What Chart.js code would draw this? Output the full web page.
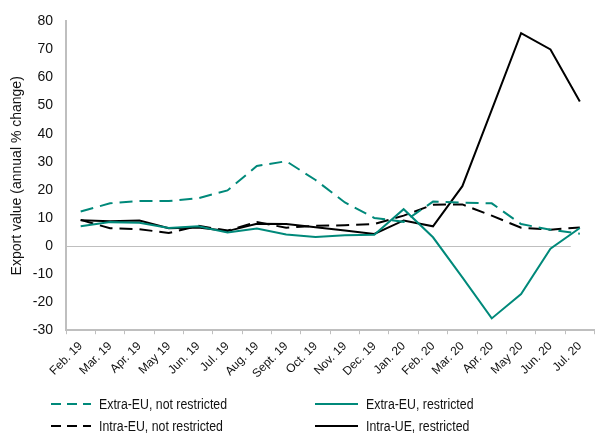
<!DOCTYPE html>
<html>
<head>
<meta charset="utf-8">
<script src="https://cdn.jsdelivr.net/npm/chart.js@4/dist/chart.umd.min.js"></script>
<style>
  html, body { margin: 0; padding: 0; background: #fff; }
  #wrap { position: relative; width: 595px; height: 434px; }
  #c { position: absolute; left: 0; top: 0; }
  #legend { position: absolute; left: 0; top: 394px; width: 595px; font-family: "Liberation Sans", Arial, sans-serif; font-size: 14px; color: #111; }
  .item { position: absolute; display: flex; align-items: center; height: 20px; white-space: nowrap; }
  .item svg { margin-right: 8px; }
  .item span { display: inline-block; transform: scaleX(0.88); transform-origin: left center; }
</style>
</head>
<body>
<div id="wrap">
  <canvas id="c" width="595" height="434"></canvas>
  <div id="legend"></div>
</div>
<script>
const categories = ['Feb. 19','Mar. 19','Apr. 19','May 19','Jun. 19','Jul. 19','Aug. 19','Sept. 19','Oct. 19','Nov. 19','Dec. 19','Jan. 20','Feb. 20','Mar. 20','Apr. 20','May 20','Jun. 20','Jul. 20'];
const extraNotRestricted = [12.3, 15.2, 16, 16, 17, 19.8, 28.5, 30.2, 23.5, 15.5, 10, 8.6, 15.8, 15.4, 15.2, 7.8, 5.8, 4.4];
const extraRestricted = [7, 8.5, 8.3, 6.4, 7, 4.8, 6.2, 4.1, 3.2, 3.8, 4, 13.1, 3.1, -11.2, -25.8, -17.1, -1, 6.4];
const intraNotRestricted = [9.3, 6.3, 6, 4.6, 7.2, 5.5, 8.5, 6.5, 7.2, 7.4, 7.8, 10.8, 14.7, 14.8, 10.8, 6.5, 5.8, 6.6];
const intraRestricted = [9.2, 8.8, 9.1, 6.3, 6.6, 5.3, 7.9, 7.8, 6.7, 5.5, 4.3, 9.1, 7, 21.3, 48.5, 75.8, 70, 51.5];
const seriesLabels = ['Extra-EU, not restricted', 'Extra-EU, restricted', 'Intra-EU, not restricted', 'Intra-UE, restricted'];
const yTicks = { min: -30, max: 80, step: 10 };
const yTitle = 'Export value (annual % change)';

const TEAL = '#00897a';
const BLACK = '#000000';
const AXIS = '#bfbfbf';
const FONT = '"Liberation Sans", Arial, sans-serif';

const datasets = [
  { label: seriesLabels[0], data: extraNotRestricted, borderColor: TEAL, borderDash: [13, 7] },
  { label: seriesLabels[1], data: extraRestricted, borderColor: TEAL, borderDash: [] },
  { label: seriesLabels[2], data: intraNotRestricted, borderColor: BLACK, borderDash: [13, 7] },
  { label: seriesLabels[3], data: intraRestricted, borderColor: BLACK, borderDash: [] }
].map(d => Object.assign(d, { borderWidth: 2, pointRadius: 0, tension: 0, fill: false, backgroundColor: d.borderColor }));

// zero line drawn from the y scale, stopping a little short of the right edge like the original
const zeroLine = {
  id: 'zeroLine',
  beforeDatasetsDraw(chart) {
    const { ctx, chartArea, scales } = chart;
    const y = Math.round(scales.y.getPixelForValue(0)) + 0.5;
    const xEnd = scales.x.getPixelForValue(categories.length - 1) - 9;
    ctx.save();
    ctx.strokeStyle = AXIS;
    ctx.lineWidth = 1;
    ctx.beginPath();
    ctx.moveTo(chartArea.left, y);
    ctx.lineTo(xEnd, y);
    ctx.stroke();
    ctx.restore();
  }
};

new Chart(document.getElementById('c'), {
  type: 'line',
  data: { labels: categories, datasets },
  plugins: [zeroLine],
  options: {
    responsive: false,
    animation: false,
    layout: { padding: { left: 0, right: 0, top: 20, bottom: 48 } },
    plugins: { legend: { display: false }, tooltip: { enabled: false } },
    scales: {
      x: {
        offset: true,
        grid: { offset: true, drawOnChartArea: false, drawTicks: true, tickLength: 4, color: AXIS, lineWidth: 1 },
        border: { color: AXIS, width: 2 },
        ticks: { minRotation: 45, maxRotation: 45, autoSkip: false, padding: 5, color: '#111', font: { family: FONT, size: 12 } }
      },
      y: {
        min: yTicks.min, max: yTicks.max,
        afterFit: s => { s.width = 66; },
        grid: { display: false, drawTicks: false },
        border: { color: AXIS, width: 2 },
        ticks: { stepSize: yTicks.step, padding: 13, color: '#111', font: { family: FONT, size: 14 } },
        title: { display: true, text: yTitle, color: '#111', font: { family: FONT, size: 14 }, padding: { top: 9, bottom: 0 } }
      }
    }
  }
});

// HTML legend built from the datasets
const legend = document.getElementById('legend');
const colX = [51, 315];
datasets.forEach((d, i) => {
  const el = document.createElement('div');
  el.className = 'item';
  el.style.left = colX[i % 2] + 'px';
  el.style.top = (Math.floor(i / 2) * 22) + 'px';
  const dash = d.borderDash.length ? 'stroke-dasharray="10 6"' : '';
  const w = i % 2 === 0 ? 40 : 43;
  el.innerHTML = `<svg width="${w}" height="4"><line x1="0" y1="2" x2="${w}" y2="2" stroke="${d.borderColor}" stroke-width="2" ${dash}/></svg><span>${d.label}</span>`;
  legend.appendChild(el);
});
</script>
</body>
</html>
